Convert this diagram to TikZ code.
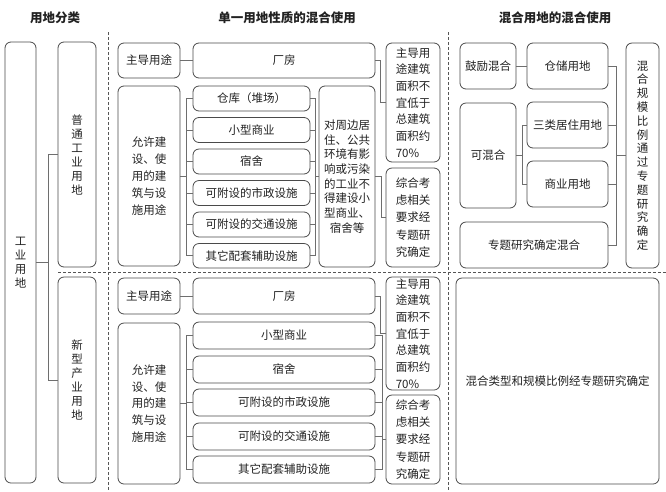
\documentclass[tikz,border=0pt]{standalone}
\usepackage{fontspec}
\setmainfont{Noto Sans CJK SC}
\definecolor{boxc}{HTML}{4A4A4A}
\definecolor{linec}{HTML}{6E6E6E}
\definecolor{txtc}{HTML}{222222}
\definecolor{sepc}{HTML}{555555}
\newcommand\mybox[7]{\node[box,#1,minimum width={(#5-#3)*1pt},minimum height={(#6-#4)*1pt}] (#2) at ({(#3+#5)/2},{(#4+#6)/2}) {#7};}
\begin{document}
\begin{tikzpicture}[x=1pt,y=-1pt,
  box/.style={draw=boxc, line width=0.8pt, rounded corners=6pt, inner sep=0pt, align=center, text=txtc, font=\fontsize{11.5}{14}\selectfont},
  conn/.style={draw=linec, line width=0.7pt},
  sepline/.style={draw=sepc, line width=0.9pt, dash pattern=on 3pt off 2pt},
  title/.style={text=txtc, font=\fontsize{12.5}{15}\selectfont\bfseries},
  ls/.style={font=\fontsize{11.5}{#1}\selectfont}]
\useasboundingbox (0,0) rectangle (666,491);
\fill[white] (0,0) rectangle (666,491);

% titles
\node[title] (h1) at (55,18) {用地分类};
\node[title] (h2) at (287,18) {单一用地性质的混合使用};
\node[title] (h3) at (555,18) {混合用地的混合使用};

% separators
\draw[sepline] (108,32) -- (108,491);
\draw[sepline] (448,32) -- (448,491);
\draw[sepline] (58,272) -- (666,272);

% left column
\mybox{}{lgy}{5}{42}{36}{483}{工\\业\\用\\地}
\mybox{}{lpt}{58}{42}{96}{267}{普\\通\\工\\业\\用\\地}
\mybox{}{lxx}{58}{277}{96}{483}{新\\型\\产\\业\\用\\地}
\coordinate (lj) at (48,262.5);
\draw[conn] (lgy.east) -- (lj);
\draw[conn] (lj) |- (lpt.west);
\draw[conn] (lj) |- (lxx.west);

% top middle
\mybox{}{tzd}{118}{43}{180}{78}{主导用途}
\mybox{}{tcf}{193}{43}{375}{78}{厂房}
\mybox{ls=17}{tyx}{118}{86}{180}{266}{允许建\\设、使\\用的建\\筑与设\\施用途}
\mybox{}{ti1}{193}{86}{310}{111}{仓库（堆场）}
\mybox{}{ti2}{193}{117.5}{310}{142.5}{小型商业}
\mybox{}{ti3}{193}{149}{310}{174}{宿舍}
\mybox{}{ti4}{193}{180.5}{310}{205.5}{可附设的市政设施}
\mybox{}{ti5}{193}{212}{310}{237}{可附设的交通设施}
\mybox{}{ti6}{193}{243.5}{310}{268}{其它配套辅助设施}
\mybox{ls=14.7}{tdz}{319}{86}{375}{267}{对周边居\\住、公共\\环境有影\\响或污染\\的工业不\\得建设小\\型商业、\\宿舍等}
\mybox{ls=16.7,align=left}{tzb}{386}{43}{440}{162}{主导用\\途建筑\\面积不\\宜低于\\总建筑\\面积约\\70\%}
\mybox{ls=17.3,align=left}{tzh}{386}{168}{440}{267}{综合考\\虑相关\\要求经\\专题研\\究确定}
\draw[conn] (tzd.east) -- (tcf.west);
\coordinate (tj1) at (186.5,176);
\draw[conn] (tyx.east) -- (tj1);
\foreach \i in {1,...,6} {\draw[conn] (tj1) |- (ti\i.west);}
\coordinate (tj2) at (315,176.5);
\foreach \i in {1,...,6} {\draw[conn] (ti\i.east) -| (tj2);}
\draw[conn] (tj2) -- (tdz.west);
\draw[conn] (tcf.east) -- ++(5,0) |- (tzb.west);
\draw[conn] (tdz.east) -- ++(6,0) |- (tzh.west);

% right top
\mybox{}{rgl}{460}{43}{516}{89}{鼓励混合}
\mybox{}{rcc}{527}{43}{608}{89}{仓储用地}
\mybox{}{rkh}{460}{103}{516}{208}{可混合}
\mybox{}{rsl}{527}{102}{608}{148}{三类居住用地}
\mybox{}{rsy}{527}{161}{608}{207}{商业用地}
\mybox{}{rzt}{460}{222}{608}{268}{专题研究确定混合}
\mybox{ls=13.8}{rgm}{626}{43}{659}{268}{混\\合\\规\\模\\比\\例\\通\\过\\专\\题\\研\\究\\确\\定}
\draw[conn] (rgl.east) -- (rcc.west);
\coordinate (rj1) at (522.5,155.5);
\draw[conn] (rkh.east) -- (rj1);
\draw[conn] (rj1) |- (rsl.west);
\draw[conn] (rj1) |- (rsy.west);
\coordinate (rj2) at (616,155.5);
\foreach \n in {rcc,rsl,rsy,rzt} {\draw[conn] (\n.east) -| (rj2);}
\draw[conn] (rj2) -- (rgm.west);

% bottom middle
\mybox{}{bzd}{118}{278}{180}{314}{主导用途}
\mybox{}{bcf}{193}{278}{375}{314}{厂房}
\mybox{ls=16.7}{byx}{118}{323}{180}{484}{允许建\\设、使\\用的建\\筑与设\\施用途}
\mybox{}{bi1}{193}{322}{375}{349}{小型商业}
\mybox{}{bi2}{193}{356}{375}{383}{宿舍}
\mybox{}{bi3}{193}{389}{375}{416}{可附设的市政设施}
\mybox{}{bi4}{193}{423}{375}{450}{可附设的交通设施}
\mybox{}{bi5}{193}{456}{375}{483}{其它配套辅助设施}
\mybox{ls=16.7,align=left}{bzb}{386}{277}{440}{390}{主导用\\途建筑\\面积不\\宜低于\\总建筑\\面积约\\70\%}
\mybox{ls=17.3,align=left}{bzh}{386}{395}{440}{484}{综合考\\虑相关\\要求经\\专题研\\究确定}
\mybox{}{bhh}{456}{278}{659}{484}{混合类型和规模比例经专题研究确定}
\draw[conn] (bzd.east) -- (bcf.west);
\coordinate (bj1) at (186,403.5);
\draw[conn] (byx.east) -- (bj1);
\foreach \i in {1,...,5} {\draw[conn] (bj1) |- (bi\i.west);}
\draw[conn] (bcf.east) -- ++(5,0) |- (bzb.west);
\coordinate (bj2) at (382,439.5);
\foreach \i in {1,...,5} {\draw[conn] (bi\i.east) -| (bj2);}
\draw[conn] (bj2) -- (bzh.west);
\end{tikzpicture}
\end{document}
